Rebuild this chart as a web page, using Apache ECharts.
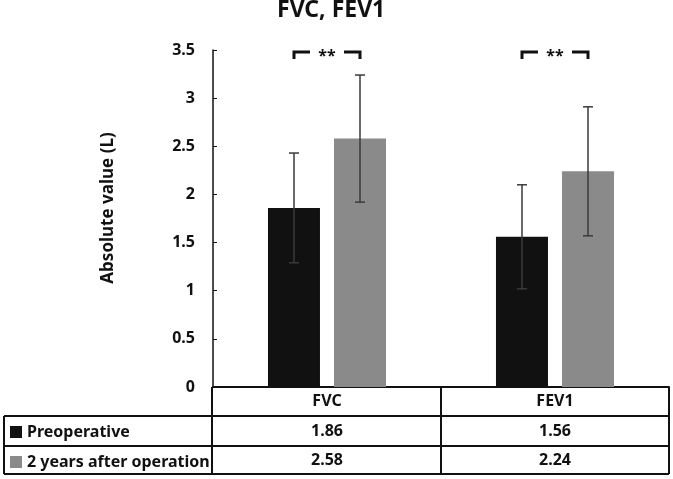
<!DOCTYPE html>
<html>
<head>
<meta charset="utf-8">
<script src="https://cdn.jsdelivr.net/npm/echarts@6/dist/echarts.min.js"></script>
<style>
html, body { margin: 0; padding: 0; background: #fff; }
#chart { width: 673px; height: 479px; }
</style>
</head>
<body>
<div id="chart"></div>
<script>
// values
var categories = ['FVC', 'FEV1'];
var seriesNames = ['Preoperative', '2 years after operation'];
var preop = [1.86, 1.56];
var postop = [2.58, 2.24];
var preopSd = [0.57, 0.54];
var postopSd = [0.66, 0.67];
var sigMarks = ['**', '**'];
var sigLevel = [3.48, 3.48];

var FONT = '"Noto Sans", "DejaVu Sans", sans-serif';
var BAR_W = 52;
var OFFSET = 33; // half of bar width + half gap

function errData(mean, sd) {
    return mean.map(function (m, i) { return [i, m - sd[i], m + sd[i]]; });
}

function errRender(offset) {
    return function (params, api) {
        var idx = api.value(0);
        var lo = api.coord([idx, api.value(1)]);
        var hi = api.coord([idx, api.value(2)]);
        var x = lo[0] + offset;
        var st = { stroke: '#3a3a3a', lineWidth: 1.5 };
        return {
            type: 'group',
            children: [
                { type: 'line', shape: { x1: x, y1: hi[1], x2: x, y2: lo[1] }, style: st },
                { type: 'line', shape: { x1: x - 5, y1: hi[1], x2: x + 5, y2: hi[1] }, style: st },
                { type: 'line', shape: { x1: x - 5, y1: lo[1], x2: x + 5, y2: lo[1] }, style: st }
            ]
        };
    };
}

function sigRender(params, api) {
    var idx = api.value(0);
    var c = api.coord([idx, api.value(1)]);
    var y = c[1];
    var y2 = y + 7;
    var l = c[0] - OFFSET, r = c[0] + OFFSET;
    var st = { stroke: '#111', lineWidth: 3, fill: null };
    return {
        type: 'group',
        children: [
            { type: 'polyline', shape: { points: [[l, y2], [l, y], [l + 16, y]] }, style: st },
            { type: 'polyline', shape: { points: [[r - 16, y], [r, y], [r, y2]] }, style: st },
            { type: 'text', style: { text: sigMarks[idx], x: c[0], y: y - 3, align: 'center', verticalAlign: 'top',
                fontSize: 16, fontWeight: 'bold', fontFamily: FONT, fill: '#111' } }
        ]
    };
}

var chart = echarts.init(document.getElementById('chart'));

var legendText = { fontSize: 16, fontWeight: 'bold', fontFamily: FONT, color: '#111' };

var option = {
    backgroundColor: '#fff',
    animation: false,
    title: {
        text: 'FVC, FEV1',
        left: 277,
        top: -1,
        padding: 0,
        textStyle: { fontSize: 23, fontWeight: 'bold', fontFamily: FONT, color: '#111' }
    },
    legend: [
        { data: [seriesNames[0]], left: 10, top: 424, icon: 'rect', itemWidth: 12, itemHeight: 12,
          textStyle: legendText, selectedMode: false, padding: 0 },
        { data: [seriesNames[1]], left: 10, top: 454, icon: 'rect', itemWidth: 12, itemHeight: 12,
          textStyle: legendText, selectedMode: false, padding: 0 }
    ],
    grid: { left: 213, right: 4, top: 50, bottom: 92 },
    xAxis: {
        type: 'category',
        data: categories,
        axisLine: { lineStyle: { color: '#111', width: 2 } },
        axisTick: { show: false },
        axisLabel: { margin: 6, fontSize: 16, fontWeight: 'bold', fontFamily: FONT, color: '#111' }
    },
    yAxis: {
        type: 'value',
        min: 0,
        max: 3.5,
        interval: 0.5,
        name: 'Absolute value (L)',
        nameLocation: 'middle',
        nameRotate: 90,
        nameGap: 96,
        nameTextStyle: { fontSize: 17, fontWeight: 'bold', fontFamily: FONT, color: '#111', padding: [0, 0, 0, 21] },
        axisLine: { show: true, lineStyle: { color: '#111', width: 1.5 } },
        axisTick: { show: true, inside: true, length: 4, lineStyle: { color: '#111' } },
        splitLine: { show: false },
        axisLabel: { margin: 18, fontSize: 16, fontWeight: 'bold', fontFamily: FONT, color: '#111' }
    },
    series: [
        { name: seriesNames[0], type: 'bar', data: preop, barWidth: BAR_W, barGap: '27%', itemStyle: { color: '#111111' } },
        { name: seriesNames[1], type: 'bar', data: postop, barWidth: BAR_W, itemStyle: { color: '#8a8a8a' } },
        { type: 'custom', data: errData(preop, preopSd), renderItem: errRender(-OFFSET), z: 5, silent: true },
        { type: 'custom', data: errData(postop, postopSd), renderItem: errRender(OFFSET), z: 5, silent: true },
        { type: 'custom', data: sigLevel.map(function (v, i) { return [i, v]; }), renderItem: sigRender, z: 5, silent: true }
    ]
};
chart.setOption(option);

// table under the x axis
var top0 = 387, rowA = 416, rowB = 446, bottom0 = 474;
var xl = 4, xc = 212, xr = 669;
var p0 = chart.convertToPixel({ xAxisIndex: 0 }, 0);
var p1 = chart.convertToPixel({ xAxisIndex: 0 }, 1);
var xm = (p0 + p1) / 2;
var ls = { stroke: '#111', lineWidth: 2 };
var g = [
    { type: 'line', shape: { x1: xl, y1: rowA, x2: xr, y2: rowA }, style: ls },
    { type: 'line', shape: { x1: xl, y1: rowB, x2: xr, y2: rowB }, style: ls },
    { type: 'line', shape: { x1: xl, y1: bottom0, x2: xr, y2: bottom0 }, style: ls },
    { type: 'line', shape: { x1: xl, y1: rowA, x2: xl, y2: bottom0 }, style: ls },
    { type: 'line', shape: { x1: xc, y1: top0, x2: xc, y2: bottom0 }, style: ls },
    { type: 'line', shape: { x1: xm, y1: top0, x2: xm, y2: bottom0 }, style: ls },
    { type: 'line', shape: { x1: xr, y1: top0, x2: xr, y2: bottom0 }, style: ls }
];
[preop, postop].forEach(function (arr, r) {
    var yy = r === 0 ? (rowA + rowB) / 2 : (rowB + bottom0) / 2;
    arr.forEach(function (v, i) {
        g.push({
            type: 'text',
            x: chart.convertToPixel({ xAxisIndex: 0 }, i),
            y: yy,
            style: { text: v.toFixed(2), align: 'center', verticalAlign: 'middle',
                fontSize: 16, fontWeight: 'bold', fontFamily: FONT, fill: '#111' }
        });
    });
});
chart.setOption({ graphic: g });
</script>
</body>
</html>
